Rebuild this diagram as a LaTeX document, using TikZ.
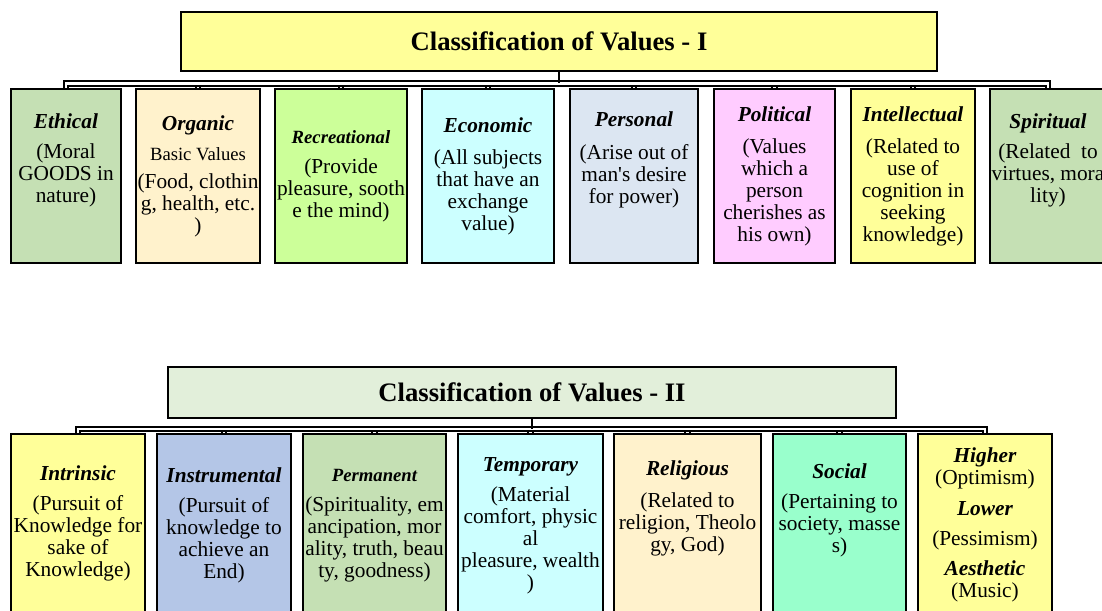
\documentclass[tikz,border=0pt]{standalone}
\usepackage{fontspec}
\setmainfont{Liberation Serif}
\usetikzlibrary{positioning}

\definecolor{paleyellow}{HTML}{FFFF99}
\definecolor{sage}{HTML}{C5E0B4}
\definecolor{cream}{HTML}{FFF2CC}
\definecolor{lime}{HTML}{CCFF99}
\definecolor{paleaqua}{HTML}{CCFFFF}
\definecolor{paleblue}{HTML}{DCE6F2}
\definecolor{palepink}{HTML}{FFCCFF}
\definecolor{mist}{HTML}{E2EFDA}
\definecolor{steel}{HTML}{B4C6E7}
\definecolor{mint}{HTML}{99FFCC}

\newcommand{\hdg}[1]{{\bfseries\itshape #1}}
\newcommand{\smallhdg}[1]{{\fontsize{14}{15}\selectfont\bfseries\itshape #1}}

\begin{document}
\begin{tikzpicture}[x = 0.75pt, y = -0.75pt,
	box/.style = {draw = black, line width = 1.4pt, inner sep = 0pt},
	sz/.style 2 args = {minimum width = #1*0.75pt, minimum height = #2*0.75pt},
	txt/.style = {align = center, inner sep = 0pt, font = \fontsize{16}{16.5}\selectfont},
	ttl/.style = {font = \fontsize{20}{22}\selectfont\bfseries},
	conn/.style = {draw = black, line width = 1.5pt, double = white, double distance = 2.2pt},
	drop/.style = {draw = black, line width = 2.2pt}]
	\useasboundingbox (0, 0) rectangle (1102, 610);
	\clip (0, 0) rectangle (1102, 610);

	\node [box, sz = {756}{59}, fill = paleyellow] (t1) at (559, 41.5) {};
	\node [ttl] (t1txt) at (t1.center) {Classification of Values - I};
	\coordinate (busI) at (0, 83.5);

	\node [box, sz = {110}{174}, fill = sage] (eth) at (66, 176) {};
	\node [box, sz = {124}{174}, fill = cream] (org) at (198, 176) {};
	\node [box, sz = {132}{174}, fill = lime] (rec) at (341, 176) {};
	\node [box, sz = {132}{174}, fill = paleaqua] (eco) at (488, 176) {};
	\node [box, sz = {128}{174}, fill = paleblue] (per) at (634, 176) {};
	\node [box, sz = {121}{174}, fill = palepink] (pol) at (774.5, 176) {};
	\node [box, sz = {124}{174}, fill = paleyellow] (itl) at (913, 176) {};
	\node [box, sz = {116}{174}, fill = sage] (spi) at (1048, 176) {};

	\node [txt] (ethtxt) at (66, 160) {\hdg{Ethical}\\[6pt] (Moral\\ GOODS in\\ nature)};
	\node [txt] (orgtxt) at (198, 176.5) {\hdg{Organic}\\[6pt] {\fontsize{14}{15}\selectfont Basic Values}\\[4pt] (Food, clothin\\ g, health, etc.\\ )};
	\node [txt] (rectxt) at (341, 176) {\smallhdg{Recreational}\\[6pt] (Provide\\ pleasure, sooth\\ e the mind)};
	\node [txt] (ecotxt) at (488, 176.5) {\hdg{Economic}\\[7pt] (All subjects\\ that have an\\ exchange\\ value)};
	\node [txt] (pertxt) at (634, 160) {\hdg{Personal}\\[8pt] (Arise out of\\ man\textquotesingle s desire\\ for power)};
	\node [txt] (poltxt) at (774.5, 176.5) {\hdg{Political}\\[7pt] (Values\\ which a\\ person\\ cherishes as\\ his own)};
	\node [txt] (itltxt) at (913, 176.5) {\hdg{Intellectual}\\[7pt] (Related to\\ use of\\ cognition in\\ seeking\\ knowledge)};
	\node [txt] (spitxt) at (1048, 160) {\hdg{Spiritual}\\[6pt] (Related~ to\\ virtues, mora\\ lity)};

	\foreach \b in {org, rec, eco, per, pol, itl}
		\draw [conn] (\b.north) -- (\b.north |- busI);
	\draw [conn] (eth.north) -- (eth.north |- busI) -- (spi.north |- busI) -- (spi.north);
	\draw [drop] (t1.south) -- (t1.south |- busI);

	\node [box, sz = {728}{51}, fill = mist] (t2) at (532, 392.5) {};
	\node [ttl] (t2txt) at (t2.center) {Classification of Values - II};
	\coordinate (busII) at (0, 429);

	\node [box, sz = {134}{196}, fill = paleyellow] (intr) at (78, 532) {};
	\node [box, sz = {134}{196}, fill = steel] (inst) at (224, 532) {};
	\node [box, sz = {143}{196}, fill = sage] (perm) at (374.5, 532) {};
	\node [box, sz = {145}{196}, fill = paleaqua] (temp) at (530.5, 532) {};
	\node [box, sz = {147}{196}, fill = cream] (reli) at (687.5, 532) {};
	\node [box, sz = {133}{196}, fill = mint] (soc) at (839.5, 532) {};
	\node [box, sz = {134}{196}, fill = paleyellow] (high) at (985, 532) {};

	\node [txt] (intrtxt) at (78, 523.5) {\hdg{Intrinsic}\\[6pt] (Pursuit of\\ Knowledge for\\ sake of\\ Knowledge)};
	\node [txt] (insttxt) at (224, 525.5) {\hdg{Instrumental}\\[6pt] (Pursuit of\\ knowledge to\\ achieve an\\ End)};
	\node [txt] (permtxt) at (374.5, 525.5) {\smallhdg{Permanent}\\[6pt] (Spirituality, em\\ ancipation, mor\\ ality, truth, beau\\ ty, goodness)};
	\node [txt] (temptxt) at (530.5, 525.5) {\hdg{Temporary}\\[6pt] (Material\\ comfort, physic\\ al\\ pleasure, wealth\\ )};
	\node [txt] (relitxt) at (687.5, 508.5) {\hdg{Religious}\\[8pt] (Related to\\ religion, Theolo\\ gy, God)};
	\node [txt] (soctxt) at (839.5, 510) {\hdg{Social}\\[6pt] (Pertaining to\\ society, masse\\ s)};
	\node [txt] (hightxt) at (985, 525) {\hdg{Higher}\\ (Optimism)\\[6.5pt] \hdg{Lower}\\[6.5pt] (Pessimism)\\[6pt] \hdg{Aesthetic}\\ (Music)};

	\foreach \b in {inst, perm, temp, reli, soc}
		\draw [conn] (\b.north) -- (\b.north |- busII);
	\draw [conn] (intr.north) -- (intr.north |- busII) -- (high.north |- busII) -- (high.north);
	\draw [drop] (t2.south) -- (t2.south |- busII);
\end{tikzpicture}
\end{document}
